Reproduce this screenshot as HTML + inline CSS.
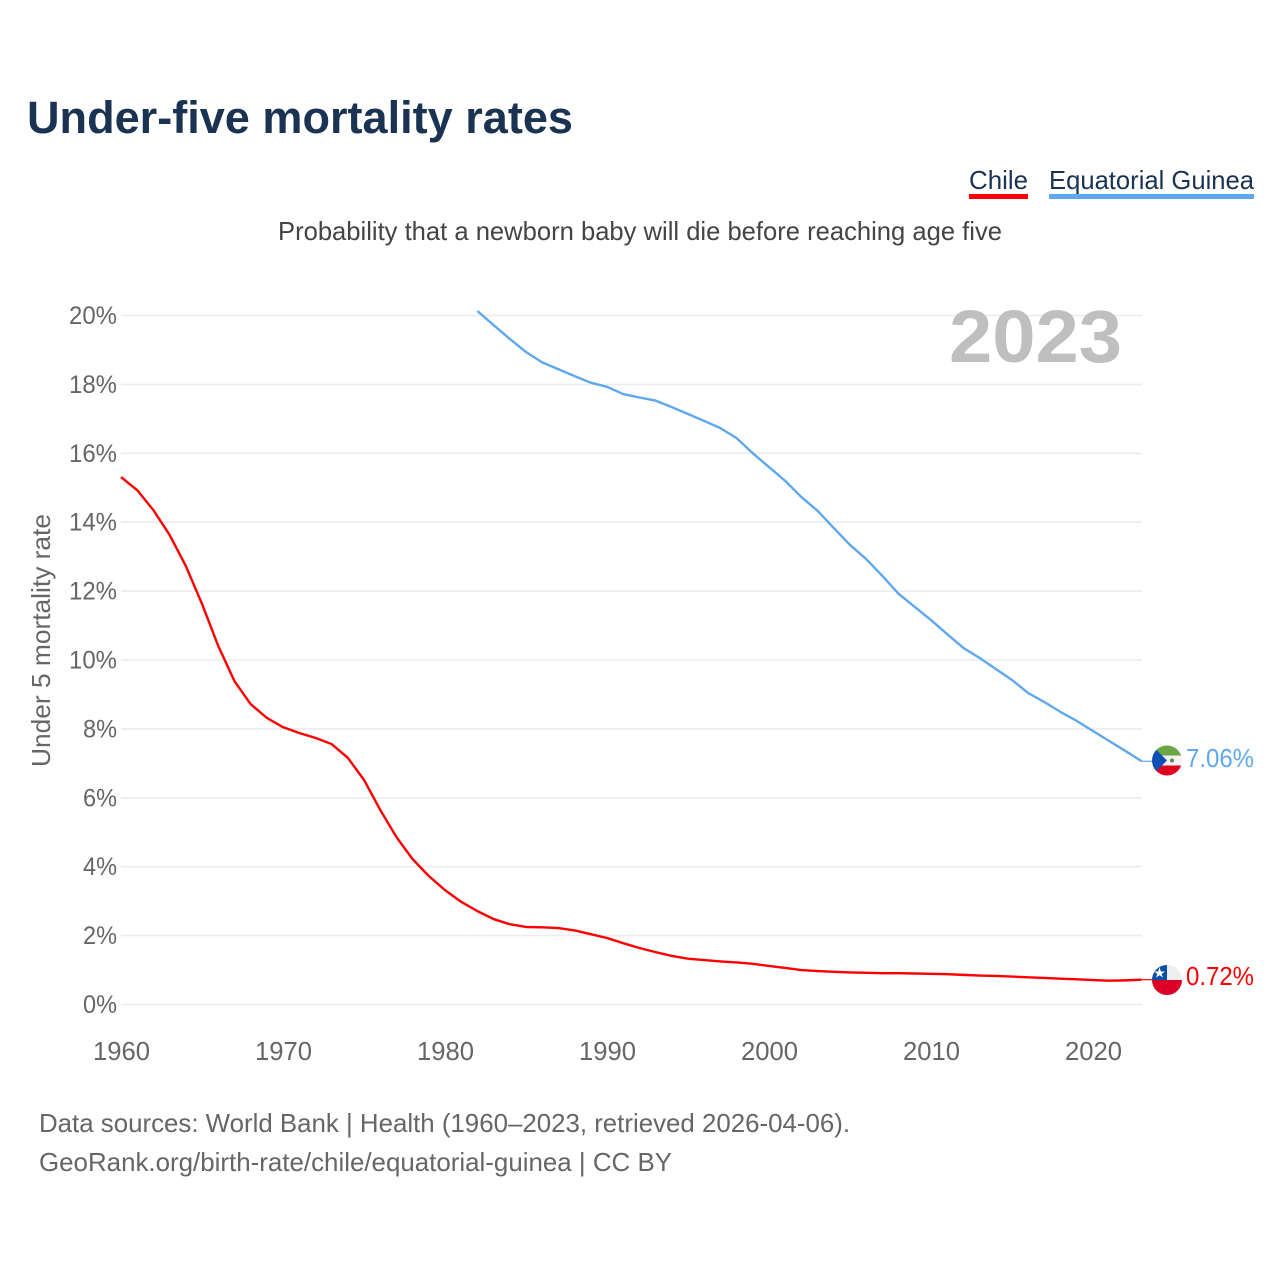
<!DOCTYPE html>
<html><head><meta charset="utf-8"><title>Under-five mortality rates</title>
<style>
html,body{margin:0;padding:0;background:#fff}
svg{display:block}
text{font-family:"Liberation Sans",sans-serif}
</style></head>
<body>
<svg id="chart" xmlns="http://www.w3.org/2000/svg" width="1280" height="1280" viewBox="0 0 1280 1280">
<rect width="1280" height="1280" fill="#fff"/>
<text x="27" y="133" font-size="45" font-weight="700" fill="#1a3352" textLength="546" lengthAdjust="spacingAndGlyphs">Under-five mortality rates</text>
<g>
<text x="969" y="189" font-size="26" fill="#1a3352" textLength="59" lengthAdjust="spacingAndGlyphs">Chile</text>
<rect x="969" y="194" width="59" height="5" fill="#ff0000"/>
</g>
<g>
<text x="1049" y="189" font-size="26" fill="#1a3352" textLength="205" lengthAdjust="spacingAndGlyphs">Equatorial Guinea</text>
<rect x="1049" y="194" width="205" height="5" fill="#5fa8ee"/>
</g>
<text x="278" y="240" font-size="26" fill="#444" textLength="724" lengthAdjust="spacingAndGlyphs">Probability that a newborn baby will die before reaching age five</text>
<text transform="translate(50,767) rotate(-90)" font-size="26" fill="#666" textLength="253" lengthAdjust="spacingAndGlyphs">Under 5 mortality rate</text>
<g id="grid"></g>
<g id="yticks"></g>
<g id="xticks"></g>
<text x="949" y="362" font-size="74" font-weight="700" fill="#bfbfbf" textLength="173" lengthAdjust="spacingAndGlyphs">2023</text>
<g id="series"></g>

<defs>
<clipPath id="flagClipGQ"><circle cx="1167" cy="760.5" r="15"/></clipPath>
<clipPath id="flagClipCL"><circle cx="1167" cy="980" r="15"/></clipPath>
</defs>
<g clip-path="url(#flagClipGQ)">
<rect x="1152" y="745.5" width="30" height="10" fill="#6ba644"/>
<rect x="1152" y="755.5" width="30" height="10" fill="#f2f2f2"/>
<rect x="1152" y="765.5" width="30" height="10.5" fill="#e0001f"/>
<polygon points="1152,745.5 1167,760.5 1152,775.5" fill="#0f4fb5"/>
<circle cx="1172" cy="760.5" r="2" fill="#5a8a50"/>
</g>
<g clip-path="url(#flagClipCL)">
<rect x="1152" y="965" width="30" height="15" fill="#eeeeee"/>
<rect x="1152" y="965" width="15" height="15" fill="#0a4fa8"/>
<rect x="1152" y="980" width="30" height="15" fill="#da0027"/>
<polygon points="1159.5,968 1160.9,972 1165,972 1161.7,974.4 1162.9,978 1159.5,975.8 1156.1,978 1157.3,974.4 1154,972 1158.1,972" fill="#fff" transform="translate(0,-0.5)"/>
</g>
<text id="label-gq" x="1186" y="767" font-size="26" fill="#5fa8ee" textLength="68" lengthAdjust="spacingAndGlyphs"></text>
<text id="label-cl" x="1186" y="985" font-size="26" fill="#ff0000" textLength="68" lengthAdjust="spacingAndGlyphs"></text>

<text x="39" y="1132" font-size="26" fill="#666" textLength="811" lengthAdjust="spacingAndGlyphs">Data sources: World Bank | Health (1960–2023, retrieved 2026-04-06).</text>
<text x="39" y="1171" font-size="26" fill="#666" textLength="633" lengthAdjust="spacingAndGlyphs">GeoRank.org/birth-rate/chile/equatorial-guinea | CC BY</text>
</svg>
<script>
const yTickValues = [0, 2, 4, 6, 8, 10, 12, 14, 16, 18, 20];
const xTickYears = [1960, 1970, 1980, 1990, 2000, 2010, 2020];
const chileStartYear = 1960;
const chileValues = [15.31, 14.93, 14.35, 13.63, 12.73, 11.63, 10.41, 9.39, 8.72, 8.32, 8.05, 7.88, 7.74, 7.56, 7.16, 6.52, 5.65, 4.86, 4.22, 3.73, 3.32, 2.98, 2.71, 2.48, 2.33, 2.25, 2.24, 2.22, 2.15, 2.04, 1.93, 1.78, 1.64, 1.52, 1.41, 1.33, 1.29, 1.25, 1.22, 1.18, 1.12, 1.06, 1.0, 0.97, 0.95, 0.93, 0.92, 0.91, 0.91, 0.9, 0.89, 0.88, 0.86, 0.84, 0.83, 0.81, 0.79, 0.77, 0.75, 0.73, 0.71, 0.69, 0.7, 0.72];
const guineaStartYear = 1982;
const guineaValues = [20.13, 19.72, 19.32, 18.94, 18.64, 18.44, 18.24, 18.05, 17.93, 17.72, 17.62, 17.53, 17.34, 17.14, 16.94, 16.73, 16.44, 16.0, 15.6, 15.2, 14.73, 14.33, 13.83, 13.34, 12.93, 12.44, 11.92, 11.54, 11.16, 10.75, 10.35, 10.06, 9.74, 9.42, 9.04, 8.78, 8.49, 8.23, 7.94, 7.65, 7.36, 7.06];

const NS = 'http://www.w3.org/2000/svg';
const xScale = function (year) { return 121 + (year - 1960) * 16.2; };
const yScale = function (v) { return 1004.5 - v * 34.45; };

function make(tag, parent, attrs, text) {
  const el = document.createElementNS(NS, tag);
  for (const k in attrs) el.setAttribute(k, attrs[k]);
  if (text !== undefined) el.textContent = text;
  parent.appendChild(el);
  return el;
}

const grid = document.getElementById('grid');
const yticks = document.getElementById('yticks');
const xticks = document.getElementById('xticks');
const series = document.getElementById('series');

yTickValues.forEach(function (v) {
  const line = make('line', grid, {x1: 121, x2: 1142, y1: yScale(v), y2: yScale(v), stroke: '#ececec', 'stroke-width': 1.6});
  
  
  const label = v + '%';
  const t = make('text', yticks, {x: 117, y: yScale(v) + 8.5, 'font-size': 25, fill: '#666', 'text-anchor': 'end', textLength: label.length === 3 ? 48 : 34, lengthAdjust: 'spacingAndGlyphs'}, label);
  
  
});

xTickYears.forEach(function (y) {
  const t = make('text', xticks, {x: xScale(y) + 0.5, y: 1060, 'font-size': 26, fill: '#666', 'text-anchor': 'middle', textLength: 57, lengthAdjust: 'spacingAndGlyphs'}, String(y));
  
  
});

function pathFor(values, startYear) {
  return values.map(function (v, i) {
    return (i ? 'L' : 'M') + xScale(startYear + i).toFixed(2) + ' ' + yScale(v).toFixed(2);
  }).join(' ');
}

const chileLine = make('path', series, {d: pathFor(chileValues, chileStartYear), fill: 'none', stroke: '#ff0000', 'stroke-width': 2.4, 'stroke-linejoin': 'round'});



const guineaLine = make('path', series, {d: pathFor(guineaValues, guineaStartYear), fill: 'none', stroke: '#5fa8ee', 'stroke-width': 2.4, 'stroke-linejoin': 'round'});



const lastChile = chileValues[chileValues.length - 1];
const lastGuinea = guineaValues[guineaValues.length - 1];

const leaderChile = make('line', series, {x1: xScale(2023), x2: 1152, y1: yScale(lastChile), y2: yScale(lastChile), stroke: '#ff0000', 'stroke-width': 1.2});



const leaderGuinea = make('line', series, {x1: xScale(2023), x2: 1152, y1: yScale(lastGuinea), y2: yScale(lastGuinea), stroke: '#5fa8ee', 'stroke-width': 1.2});



document.getElementById('label-gq').textContent = lastGuinea.toFixed(2) + '%';
document.getElementById('label-cl').textContent = lastChile.toFixed(2) + '%';
</script>
</body></html>
